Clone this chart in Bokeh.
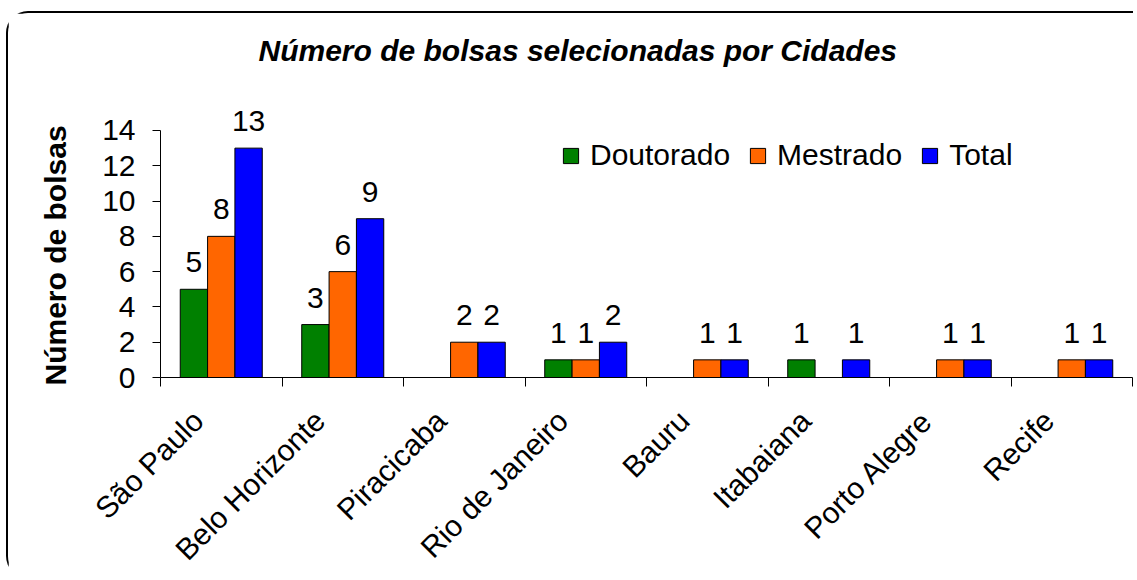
import numpy as np
from math import pi
from bokeh.plotting import figure
from bokeh.models import (ColumnDataSource, FixedTicker, LabelSet, Legend, LegendItem, Range1d, Title)
from bokeh.core.properties import value
from bokeh.embed import file_html
from bokeh.resources import INLINE

# ---- data ----
cities = ["São Paulo", "Belo Horizonte", "Piracicaba", "Rio de Janeiro",
          "Bauru", "Itabaiana", "Porto Alegre", "Recife"]
doutorado = [5, 3, 0, 1, 0, 1, 0, 0]
mestrado = [8, 6, 2, 1, 1, 0, 1, 1]
total = [13, 9, 2, 2, 1, 1, 1, 1]
series_names = ["Doutorado", "Mestrado", "Total"]
series_colors = ["#008000", "#FF6600", "#0000FF"]
y_ticks = [0, 2, 4, 6, 8, 10, 12, 14]
title_text = "Número de bolsas selecionadas por Cidades"
y_label = "Número de bolsas"

FONT = "Liberation Sans"
FS = "30px"

p = figure(width=1127, height=567,
           x_range=Range1d(-0.5, len(cities) - 0.5), y_range=Range1d(0, 16.38),
           output_backend="svg", toolbar_location=None,
           min_border_left=152, min_border_right=3,
           min_border_top=75, min_border_bottom=203)
p.styles = {"margin-left": "6px", "margin-top": "11px",
            "border-top": "2px solid black", "border-left": "2px solid black",
            "border-top-left-radius": "22px", "border-bottom-left-radius": "22px"}
p.xgrid.visible = False
p.ygrid.visible = False
p.outline_line_color = None
p.background_fill_color = "white"
p.border_fill_color = "white"

# title
p.title.text = title_text
p.title.align = "left"
p.title.offset = 98
p.title.vertical_align = "top"
p.title.standoff = 39
p.title.text_font = FONT
p.title.text_font_size = FS
p.title.text_font_style = "bold italic"
p.title.text_color = "black"

# y axis title, as a left-side title
p.add_layout(Title(text=y_label, align="left", offset=-8, standoff=56,
                   text_font=FONT, text_font_size=FS, text_font_style="bold",
                   text_color="black"), "left")

# x axis
idx = list(range(len(cities)))
lab_shift = -0.19
label_pos = [round(i + lab_shift, 2) for i in idx]
xa = p.xaxis[0]
xa.ticker = FixedTicker(ticks=label_pos, minor_ticks=[i - 0.5 for i in range(len(cities) + 1)])
xa.major_label_overrides = {t: c for t, c in zip(label_pos, cities)}
xa.major_label_orientation = pi / 4
xa.major_tick_line_color = None
xa.major_tick_out = 9
xa.major_tick_in = 0
xa.minor_tick_line_color = "black"
xa.minor_tick_out = 9
xa.minor_tick_in = 0
xa.major_label_standoff = 29
xa.major_label_text_font = FONT
xa.major_label_text_font_size = FS
xa.major_label_text_color = "black"
xa.axis_line_color = "black"

# y axis
ya = p.yaxis[0]
ya.ticker = FixedTicker(ticks=y_ticks)
ya.bounds = (0, 14)
ya.minor_tick_line_color = None
ya.major_tick_in = 0
ya.major_tick_out = 8
ya.major_label_standoff = 17
ya.major_label_text_font = FONT
ya.major_label_text_font_size = FS
ya.major_label_text_color = "black"
ya.axis_line_color = "black"

bar_w = 0.225
items = []
lab_x, lab_y, lab_t = [], [], []
for k, (name, vals, col) in enumerate(zip(series_names, [doutorado, mestrado, total], series_colors)):
    off = (k - 1) * bar_w
    xs = [i + off for i, v in zip(idx, vals) if v != 0]
    ys = [v for v in vals if v != 0]
    src = ColumnDataSource(dict(x=xs, top=ys))
    r = p.vbar(x="x", top="top", width=bar_w, source=src,
               fill_color=col, line_color="black", line_width=1)
    items.append(LegendItem(label=name, renderers=[r]))
    lab_x += xs
    lab_y += ys
    lab_t += [str(v) for v in ys]

lsrc = ColumnDataSource(dict(x=lab_x, y=lab_y, t=lab_t))
labels = LabelSet(x="x", y="y", text="t", source=lsrc, y_offset=17,
                  text_align="center", text_baseline="alphabetic",
                  text_font=value(FONT), text_font_size=value(FS), text_color="black")
p.add_layout(labels)

legend = Legend(items=items, orientation="horizontal", location=(401, 205),
                border_line_color=None, background_fill_alpha=0,
                padding=0, margin=0, spacing=18, label_standoff=10,
                glyph_width=19, glyph_height=19,
                label_text_font=FONT, label_text_font_size=FS, label_text_color="black")
p.add_layout(legend)

open("out.html", "w").write(file_html(p, INLINE))
